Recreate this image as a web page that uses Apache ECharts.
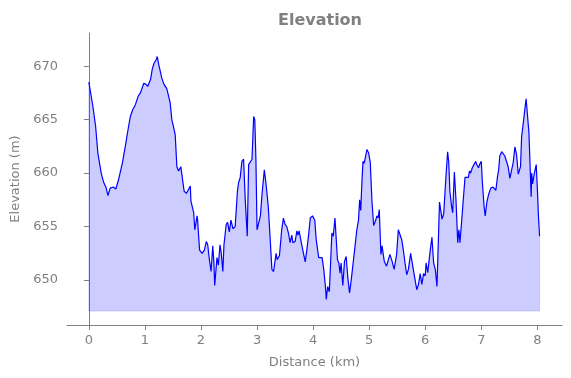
<!DOCTYPE html>
<html>
<head>
<meta charset="utf-8">
<script src="https://cdn.jsdelivr.net/npm/echarts@6/dist/echarts.min.js"></script>
<style>html,body{margin:0;padding:0;background:#fff}#c{width:571px;height:378px}</style>
</head>
<body>
<div id="c"></div>
<script>
const distance = [0.00,0.07,0.12,0.16,0.22,0.26,0.31,0.34,0.38,0.44,0.48,0.53,0.56,0.60,0.65,0.70,0.74,0.78,0.83,0.88,0.92,0.98,1.02,1.05,1.10,1.13,1.16,1.20,1.22,1.245,1.30,1.34,1.39,1.41,1.45,1.48,1.52,1.54,1.57,1.60,1.64,1.70,1.74,1.81,1.82,1.87,1.89,1.93,1.94,1.975,2.02,2.06,2.095,2.12,2.15,2.18,2.21,2.23,2.245,2.285,2.31,2.34,2.36,2.39,2.41,2.45,2.475,2.505,2.535,2.57,2.61,2.65,2.67,2.70,2.73,2.76,2.79,2.80,2.825,2.85,2.88,2.91,2.94,2.96,2.98,3.00,3.03,3.06,3.09,3.13,3.16,3.18,3.20,3.235,3.265,3.295,3.34,3.36,3.40,3.44,3.47,3.50,3.53,3.56,3.59,3.62,3.64,3.68,3.71,3.73,3.75,3.79,3.82,3.84,3.86,3.89,3.92,3.95,3.99,4.01,4.03,4.055,4.10,4.16,4.19,4.22,4.235,4.26,4.29,4.335,4.36,4.39,4.435,4.46,4.48,4.50,4.53,4.56,4.59,4.62,4.65,4.68,4.70,4.74,4.78,4.81,4.83,4.85,4.87,4.89,4.91,4.93,4.96,4.99,5.02,5.05,5.08,5.11,5.14,5.16,5.18,5.21,5.23,5.27,5.31,5.37,5.41,5.445,5.49,5.52,5.55,5.58,5.61,5.64,5.67,5.70,5.74,5.77,5.81,5.85,5.88,5.91,5.94,5.97,6.00,6.015,6.045,6.09,6.12,6.15,6.18,6.21,6.24,6.255,6.30,6.33,6.37,6.40,6.42,6.44,6.47,6.49,6.52,6.55,6.58,6.60,6.62,6.67,6.71,6.74,6.77,6.79,6.81,6.84,6.87,6.90,6.92,6.95,6.97,7.00,7.02,7.05,7.07,7.10,7.13,7.17,7.21,7.24,7.26,7.29,7.31,7.33,7.365,7.39,7.42,7.45,7.48,7.51,7.54,7.57,7.60,7.63,7.66,7.70,7.72,7.75,7.78,7.80,7.81,7.85,7.87,7.89,7.90,7.915,7.94,7.96,7.98,8.00,8.02,8.04];
const elevation = [668.5,666.3,664.4,661.9,660.0,659.2,658.6,657.9,658.6,658.7,658.5,659.4,659.5,661.0,662.5,664.1,665.3,665.9,666.4,667.2,667.5,668.4,668.3,668.1,668.75,669.7,670.25,670.6,670.9,670.2,668.9,668.3,667.9,668.0,666.6,665.0,664.1,663.6,660.6,660.2,660.6,658.3,658.1,658.8,657.4,656.3,654.7,656.0,655.6,652.8,652.5,652.8,653.6,653.3,651.9,650.8,653.2,651.7,649.5,652.1,651.4,653.3,652.6,650.8,653.3,655.2,655.4,654.5,655.6,654.8,655.0,658.3,659.1,659.6,661.1,661.3,657.5,657.4,654.1,660.8,660.9,661.3,665.3,665.0,661.3,654.7,654.55,656.0,658.1,660.3,659.0,659.0,656.9,653.8,651.0,650.8,652.5,651.9,652.3,654.7,655.8,655.2,655.0,654.4,653.5,654.2,653.5,653.6,654.6,654.2,654.6,653.5,652.7,652.6,651.7,652.9,654.2,655.8,656.0,656.0,655.6,653.8,652.1,652.1,651.0,649.4,648.2,649.4,648.9,654.4,654.1,655.8,651.9,651.6,650.65,651.6,649.5,651.75,652.2,650.2,648.8,650.0,650.0,652.8,654.7,655.6,657.5,656.5,659.1,661.1,660.9,661.4,662.2,661.9,661.0,657.4,655.1,655.5,656.0,655.8,656.6,652.4,653.2,651.75,651.3,652.4,651.75,651.0,652.4,654.7,654.6,653.8,652.8,651.6,650.5,651.0,652.5,652.5,650.3,649.1,649.6,650.6,649.6,650.6,650.4,651.6,650.7,652.8,654.0,651.6,651.0,649.4,654.7,657.3,655.7,656.2,659.7,662.0,661.0,658.3,656.9,656.3,660.1,657.4,653.5,654.7,653.5,656.9,659.6,659.7,659.6,660.2,660.0,660.5,660.6,661.1,660.8,660.5,660.8,661.1,659.1,656.9,656.0,657.3,658.0,658.6,658.7,658.8,658.4,659.7,660.3,661.6,662.0,661.9,661.6,661.7,660.6,659.5,659.6,661.0,662.45,661.7,659.9,660.6,663.4,664.7,666.1,666.95,667.0,663.8,660.8,657.8,660.0,659.0,659.8,659.7,660.8,658.6,656.0,654.1];
const baseline = 647.1;
const xTicks = [0,1,2,3,4,5,6,7,8];
const yTicks = [650,655,660,665,670];

const lineData = distance.map((d, i) => [d, elevation[i]]);
const last = distance.length - 1;
const edgeData = [[distance[0], elevation[0]], [distance[0], baseline], [distance[last], baseline], [distance[last], elevation[last]]];

const gray = '#808080';
const font = 'DejaVu Sans';
const chart = echarts.init(document.getElementById('c'), null, {renderer: 'canvas'});
chart.setOption({
  animation: false,
  backgroundColor: '#fff',
  title: {
    text: 'Elevation', left: 315, top: 8, textAlign: 'center',
    textStyle: {fontFamily: font, fontSize: 16, fontWeight: 'bold', color: gray}
  },
  grid: {left: 67, right: 9, top: 33, bottom: 53, containLabel: false},
  xAxis: {
    type: 'value', min: -0.39, max: 8.44,
    name: 'Distance (km)', nameLocation: 'middle', nameGap: 31,
    nameTextStyle: {fontFamily: font, fontSize: 13, color: gray},
    axisLine: {show: true, lineStyle: {color: gray, width: 1}},
    axisTick: {show: true, length: 5, lineStyle: {color: gray}, customValues: xTicks},
    axisLabel: {fontFamily: font, fontSize: 13, color: gray, margin: 9, customValues: xTicks},
    splitLine: {show: false}
  },
  yAxis: {
    type: 'value', min: 645.8, max: 673.1,
    name: 'Elevation (m)', nameLocation: 'middle', nameGap: 42, nameRotate: 90,
    nameTextStyle: {fontFamily: font, fontSize: 13, color: gray},
    axisLine: {show: true, lineStyle: {color: gray, width: 1}},
    axisTick: {show: true, length: 5, lineStyle: {color: gray}, customValues: yTicks},
    axisLabel: {fontFamily: font, fontSize: 13, color: gray, margin: 9, customValues: yTicks},
    splitLine: {show: false}
  },
  series: [
    {
      type: 'line', data: lineData, showSymbol: false, symbol: 'none',
      lineStyle: {color: '#0000ff', width: 1.2},
      areaStyle: {color: 'rgba(0,0,255,0.2)', opacity: 1, origin: baseline},
      z: 3
    },
    {
      type: 'line', data: edgeData, showSymbol: false, symbol: 'none',
      lineStyle: {color: 'rgba(0,0,255,0.15)', width: 1},
      z: 2
    }
  ]
});
</script>
</body>
</html>
